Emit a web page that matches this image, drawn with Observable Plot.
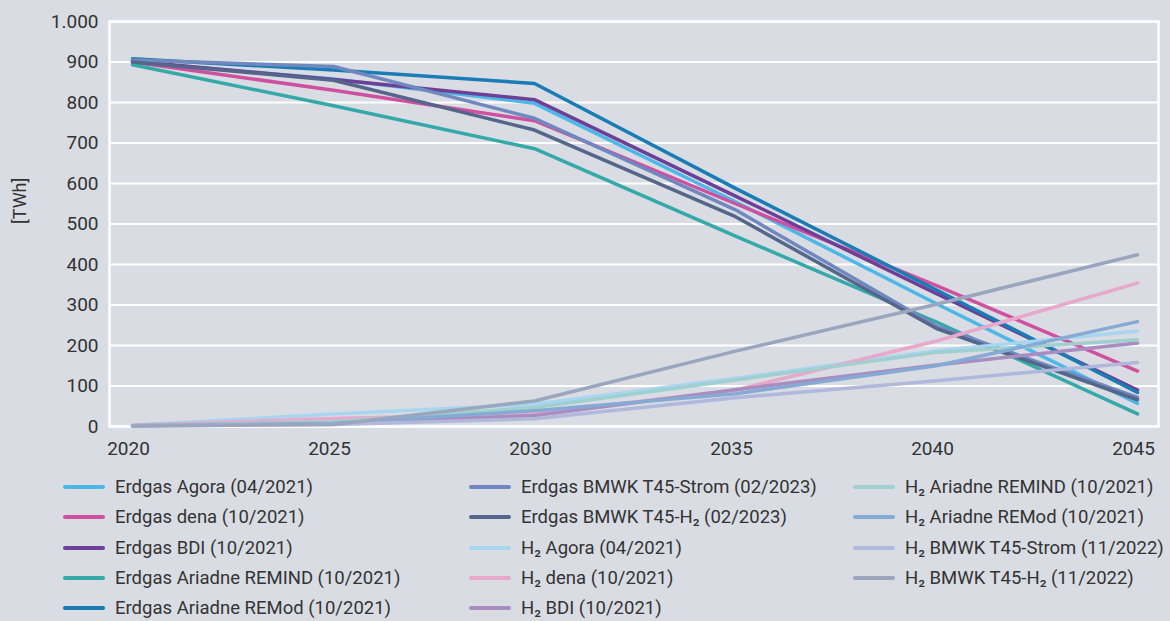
<!DOCTYPE html>
<html>
<head>
<meta charset="utf-8">
<script src="https://cdn.jsdelivr.net/npm/d3@7"></script>
<script src="https://cdn.jsdelivr.net/npm/@observablehq/plot@0.6"></script>
<style>
  html, body { margin: 0; padding: 0; background: #d9dce3; }
  body { width: 1170px; height: 621px; overflow: hidden; font-family: Roboto, "Noto Sans", sans-serif; color: #333; }
  #chart svg { display: block; }
  #legend { position: relative; height: 150px; margin-top: 10px; }
  .col { position: absolute; top: 0; }
  .item { height: 30.3px; display: flex; align-items: center; font-size: 18.5px; white-space: nowrap; }
  .sw { width: 42px; height: 4px; border-radius: 2px; margin-right: 10px; flex: none; }
</style>
</head>
<body>
<div id="chart"></div>
<div id="legend"></div>
<script>
const years = [2020, 2025, 2030, 2035, 2040, 2045];
const yTicks = [0, 100, 200, 300, 400, 500, 600, 700, 800, 900, 1000];

const seriesNames = [
  "Erdgas Agora (04/2021)",
  "Erdgas dena (10/2021)",
  "Erdgas BDI (10/2021)",
  "Erdgas Ariadne REMIND (10/2021)",
  "Erdgas Ariadne REMod (10/2021)",
  "Erdgas BMWK T45-Strom (02/2023)",
  "Erdgas BMWK T45-H₂ (02/2023)",
  "H₂ Agora (04/2021)",
  "H₂ dena (10/2021)",
  "H₂ BDI (10/2021)",
  "H₂ Ariadne REMIND (10/2021)",
  "H₂ Ariadne REMod (10/2021)",
  "H₂ BMWK T45-Strom (11/2022)",
  "H₂ BMWK T45-H₂ (11/2022)"
];
const seriesColors = [
  "#4cb8e8", "#d050a0", "#6e3f96", "#35a9a8", "#1a7cb4", "#7088c0", "#54668a",
  "#a8d5f0", "#e8a8cc", "#a98cc0", "#9fd0cf", "#85abd4", "#b0b8dc", "#99a6bd"
];

const erdgasAgora    = [900, 858, 798, 555, 303, 57];
const erdgasDena     = [900, 830, 755, 550, 348, 137];
const erdgasBDI      = [902, 857, 807, 569, 328, 90];
const erdgasRemind   = [893, 792, 686, 470, 258, 31];
const erdgasRemod    = [908, 880, 847, 588, 337, 84];
const erdgasT45Strom = [905, 889, 761, 535, 248, 72];
const erdgasT45H2    = [900, 855, 732, 518, 242, 66];
const h2Agora        = [3, 31, 55, 119, 187, 236];
const h2Dena         = [3, 20, 31, 90, 211, 354];
const h2BDI          = [2, 10, 27, 91, 152, 206];
const h2Remind       = [2, 12, 47, 115, 183, 214];
const h2Remod        = [2, 8, 39, 81, 150, 259];
const h2T45Strom     = [1, 5, 19, 71, 113, 158];
const h2T45H2        = [1, 5, 63, 186, 302, 424];

const seriesValues = [
  erdgasAgora, erdgasDena, erdgasBDI, erdgasRemind, erdgasRemod, erdgasT45Strom, erdgasT45H2,
  h2Agora, h2Dena, h2BDI, h2Remind, h2Remod, h2T45Strom, h2T45H2
];

const rows = [];
seriesNames.forEach((name, i) => {
  seriesValues[i].forEach((v, j) => rows.push({series: name, year: years[j], value: v}));
});

const fmt = d => d >= 1000 ? d3.format(",")(d).replace(/,/g, ".") : String(d);

const chart = Plot.plot({
  width: 1170,
  height: 462,
  marginLeft: 109,
  marginRight: 12,
  marginTop: 21,
  marginBottom: 36,
  style: {background: "transparent", fontFamily: "Roboto, 'Noto Sans', sans-serif", fontSize: "19px", color: "#333"},
  x: {domain: [2020, 2045], insetLeft: 23, insetRight: 21},
  y: {domain: [0, 1000]},
  color: {domain: seriesNames, range: seriesColors},
  marks: [
    Plot.gridY(yTicks, {stroke: "white", strokeOpacity: 1, strokeWidth: 2}),
    Plot.frame({stroke: "white", strokeWidth: 2.5}),
    Plot.line(rows, {x: "year", y: "value", z: "series", stroke: "series", strokeWidth: 3.5, strokeLinejoin: "round"}),
    Plot.axisY(yTicks, {tickSize: 0, tickPadding: 11, tickFormat: fmt, label: null, fill: "#333", fontSize: 19}),
    Plot.axisX(years, {tickSize: 0, tickPadding: 15, tickFormat: d => String(d), label: null, fill: "#333", dx: -4, fontSize: 19}),
    Plot.text(["[TWh]"], {frameAnchor: "left", dx: -89, rotate: -90, fontSize: 18, fill: "#333"})
  ]
});
document.getElementById("chart").appendChild(chart);

const legend = document.getElementById("legend");
const colLefts = [63, 469, 853];
const colStarts = [0, 5, 10, 14];
for (let c = 0; c < 3; c++) {
  const col = document.createElement("div");
  col.className = "col";
  col.style.left = colLefts[c] + "px";
  for (let i = colStarts[c]; i < colStarts[c + 1]; i++) {
    const it = document.createElement("div");
    it.className = "item";
    const sw = document.createElement("span");
    sw.className = "sw";
    sw.style.background = seriesColors[i];
    const tx = document.createElement("span");
    tx.textContent = seriesNames[i];
    it.appendChild(sw);
    it.appendChild(tx);
    col.appendChild(it);
  }
  legend.appendChild(col);
}
</script>
</body>
</html>
